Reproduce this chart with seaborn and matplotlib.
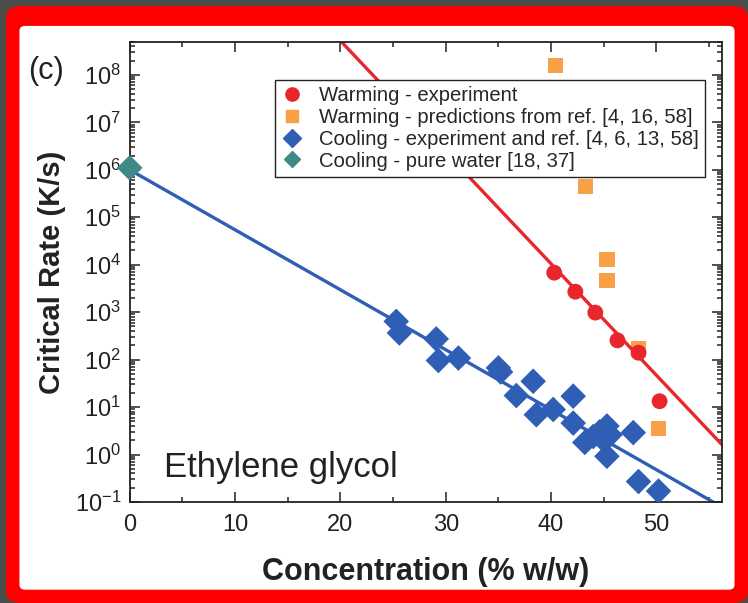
import matplotlib
matplotlib.use("Agg")
import matplotlib.pyplot as plt
from matplotlib.patches import FancyBboxPatch
from matplotlib.lines import Line2D
from matplotlib.ticker import MultipleLocator, LogLocator
import seaborn as sns
import numpy as np
import pandas as pd

# warming - experiment (red circles)
warm_conc = [40.3, 42.3, 44.2, 46.3, 48.3, 50.3]
warm_rate = [6.8e3, 2.7e3, 980, 255, 140, 13.3]

# warming - predictions (orange squares)
pred_conc = [40.4, 43.3, 45.3, 45.3, 48.3, 50.2]
pred_rate = [1.6e8, 4.4e5, 1.3e4, 4.7e3, 167, 3.6]

# cooling - experiment (blue diamonds)
cool_conc = [25.3, 25.6, 29.1, 29.3, 31.2, 35.0, 35.2, 36.7, 38.3, 38.6, 40.2,
             42.1, 42.1, 43.2, 44.0, 44.6, 45.0, 45.3, 45.6, 45.3, 47.8, 48.3, 50.2]
cool_rate = [640, 365, 273, 96, 108, 67, 55, 17.5, 35, 6.9, 8.9,
             17, 4.6, 1.8, 2.4, 3.0, 2.0, 4.0, 2.6, 0.92, 2.9, 0.27, 0.17]

# cooling - pure water (teal diamond)
water_conc = [0.0]
water_rate = [1.1e6]

# fitted lines: log10(rate) = a + b * conc, drawn over [start, end]
warm_fit = (13.42, -0.235)
warm_span = (20.0, 56.2)
cool_fit = (6.0, -0.1264)
cool_span = (0.0, 55.4)

red = "#e8262e"
orange = "#f8a048"
blue = "#2f5fb5"
teal = "#3f8a88"
ink = "#222222"

sns.set_theme(style="ticks")
plt.rcParams["font.family"] = ["Liberation Sans", "DejaVu Sans"]
plt.rcParams["mathtext.default"] = "regular"
plt.rcParams["axes.unicode_minus"] = False

fig = plt.figure(figsize=(7.48, 6.03), dpi=100)
fig.patch.set_facecolor("#4d4d4d")
fig.patches.append(FancyBboxPatch((0.008, 0.0), 0.992, 0.99, boxstyle="round,pad=0,rounding_size=0.02",
                                  transform=fig.transFigure, facecolor="#ff0000", edgecolor="none",
                                  zorder=-10))
fig.patches.append(FancyBboxPatch((0.026, 0.022), 0.956, 0.935, boxstyle="round,pad=0,rounding_size=0.008",
                                  transform=fig.transFigure, facecolor="white", edgecolor="none",
                                  zorder=-9))

ax = fig.add_axes([0.1734, 0.1675, 0.7915, 0.7633])
ax.set_facecolor("white")

for (a, b), (x0, x1), col in [(warm_fit, warm_span, red), (cool_fit, cool_span, blue)]:
    xs = np.array([x0, x1])
    sns.lineplot(x=xs, y=10 ** (a + b * xs), color=col, lw=2.4, ax=ax, legend=False)

sns.scatterplot(x=pred_conc, y=pred_rate, marker="s", s=120, color=orange, edgecolor="none", ax=ax)
sns.scatterplot(x=warm_conc, y=warm_rate, marker="o", s=130, color=red, edgecolor="none", ax=ax, zorder=4)
sns.scatterplot(x=cool_conc, y=cool_rate, marker="D", s=170, color=blue, edgecolor="none", ax=ax, zorder=4)
sns.scatterplot(x=water_conc, y=water_rate, marker="D", s=170, color=teal, edgecolor="none", ax=ax,
                zorder=5, clip_on=False)

ax.set_yscale("log")
ax.set_xlim(0, 56.2)
ax.set_ylim(1e-1, 5e8)
ax.xaxis.set_major_locator(MultipleLocator(10))
ax.xaxis.set_minor_locator(MultipleLocator(5))
ax.yaxis.set_major_locator(LogLocator(base=10, numticks=20))
ax.yaxis.set_minor_locator(LogLocator(base=10, subs=np.arange(2, 10), numticks=20))
ax.tick_params(which="both", direction="in", top=True, right=True, width=1.1, colors=ink)
ax.tick_params(which="major", length=7, labelsize=17)
ax.tick_params(axis="x", which="major", pad=9)
ax.tick_params(axis="y", which="major", pad=6)
ax.tick_params(which="minor", length=3.5)
for sp in ax.spines.values():
    sp.set_linewidth(1.3)
    sp.set_color(ink)

ax.set_xlabel("Concentration (% w/w)", fontsize=22, fontweight="bold", labelpad=15, color=ink)
ax.set_ylabel("Critical Rate (K/s)", fontsize=21, fontweight="bold", labelpad=6, color=ink)

ax.text(0.058, 0.04, "Ethylene glycol", transform=ax.transAxes, fontsize=25, color=ink,
        ha="left", va="bottom")
fig.text(0.037, 0.882, "(c)", fontsize=22, color=ink, ha="left", va="center")

handles = [
    Line2D([], [], ls="none", marker="o", ms=9.5, color=red),
    Line2D([], [], ls="none", marker="s", ms=9, color=orange),
    Line2D([], [], ls="none", marker="D", ms=9.5, color=blue),
    Line2D([], [], ls="none", marker="D", ms=8, color=teal),
]
labels = [
    "Warming - experiment",
    "Warming - predictions from ref. [4, 16, 58]",
    "Cooling - experiment and ref. [4, 6, 13, 58]",
    "Cooling - pure water [18, 37]",
]
leg = ax.legend(handles, labels, loc="upper right", bbox_to_anchor=(0.972, 0.917), fontsize=14.6,
                frameon=True, fancybox=False, edgecolor=ink, framealpha=1,
                handletextpad=0.8, labelspacing=0.14, borderpad=0.3, handlelength=1.1,
                borderaxespad=0)
leg.get_frame().set_linewidth(1.0)

fig.savefig("out.png", dpi=100, facecolor=fig.get_facecolor())
